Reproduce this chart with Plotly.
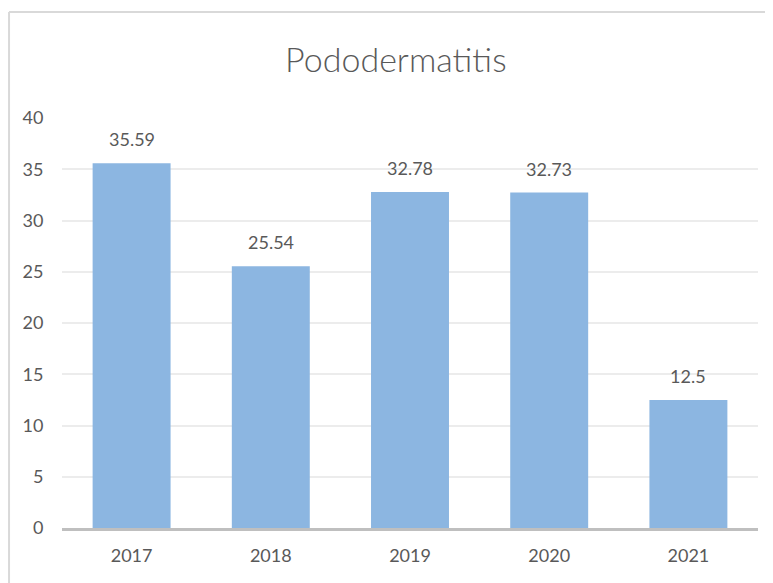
import plotly.graph_objects as go

years = ["2017", "2018", "2019", "2020", "2021"]
values = [35.59, 25.54, 32.78, 32.73, 12.5]
labels = ["35.59", "25.54", "32.78", "32.73", "12.5"]
y_ticks = [0, 5, 10, 15, 20, 25, 30, 35, 40]

font_family = "Lato"
text_grey = "#595959"

fig = go.Figure()

fig.add_trace(go.Bar(
    x=years,
    y=values,
    width=0.56,
    marker=dict(color="#8cb6e1", line=dict(width=0)),
    hoverinfo="x+y",
))

# value labels above the bars (category index keeps numeric-looking years from being misread)
for i, (v, lab) in enumerate(zip(values, labels)):
    fig.add_annotation(
        x=i, y=v, text=lab, showarrow=False,
        yanchor="bottom", yshift=11,
        font=dict(size=18, color=text_grey, family=font_family),
    )

# chart frame (only top and left edges are visible in the crop)
fig.add_shape(type="line", xref="paper", yref="paper",
              x0=-0.0761, x1=1.05, y0=1.2585, y1=1.2585,
              line=dict(color="#d9d9d9", width=2))
fig.add_shape(type="line", xref="paper", yref="paper",
              x0=-0.0761, x1=-0.0761, y0=-0.2, y1=1.2585,
              line=dict(color="#d9d9d9", width=2))

fig.update_layout(
    width=765,
    height=575,
    margin=dict(l=54, r=15, t=110, b=55),
    paper_bgcolor="white",
    plot_bgcolor="white",
    showlegend=False,
    title=dict(
        text="Pododermatitis",
        x=0.507, xanchor="center",
        y=1 - 52 / 575, yanchor="middle",
        font=dict(size=34, color=text_grey, family=font_family, weight=300),
    ),
    xaxis=dict(
        type="category",
        range=[-0.5, len(years) - 0.5],
        showgrid=False,
        showline=True,
        linecolor="#bfbfbf",
        linewidth=3,
        ticks="outside",
        ticklen=9,
        tickcolor="rgba(0,0,0,0)",
        tickfont=dict(size=18, color=text_grey, family=font_family),
    ),
    yaxis=dict(
        range=[0, 40],
        tickvals=y_ticks,
        showgrid=True,
        gridcolor="#ececec",
        gridwidth=1.5,
        zeroline=False,
        showline=False,
        ticks="outside",
        ticklen=14,
        tickcolor="rgba(0,0,0,0)",
        tickfont=dict(size=18, color=text_grey, family=font_family),
    ),
    bargap=0.44,
)

fig.write_html("out.html")
